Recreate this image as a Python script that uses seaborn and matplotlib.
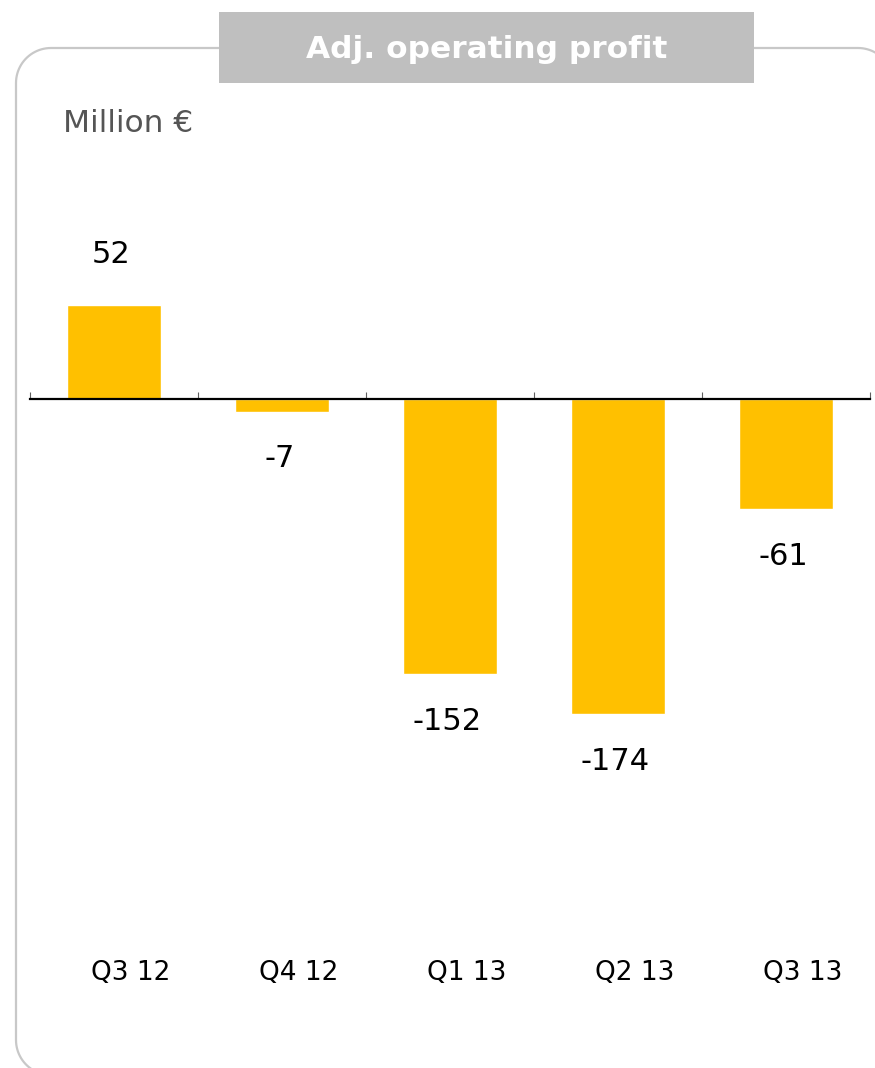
import matplotlib
matplotlib.use("Agg")
import matplotlib.pyplot as plt
import matplotlib.transforms as mtransforms
from matplotlib.patches import Rectangle, PathPatch
from matplotlib.path import Path
import numpy as np
import seaborn as sns
import pandas as pd

quarters = ["Q3 12", "Q4 12", "Q1 13", "Q2 13", "Q3 13"]
profit = [52, -7, -152, -174, -61]
title = "Adj. operating profit"
unit = "Million €"

sns.set_theme(style="white")
plt.rcParams["font.family"] = ["DejaVu Sans"]

W, H = 875, 1068
fig = plt.figure(figsize=(W / 100, H / 100), dpi=100)
fig.patch.set_facecolor("white")

px = mtransforms.IdentityTransform()  # pixel coordinates, origin bottom-left


def rounded_rect(x0, y0, x1, y1, r, n=24):
    """Closed outline of a rounded rectangle (pixel coords, y up)."""
    pts = []
    corners = [((x1 - r, y1 - r), 0), ((x0 + r, y1 - r), 90),
               ((x0 + r, y0 + r), 180), ((x1 - r, y0 + r), 270)]
    for (cx, cy), a0 in corners:
        t = np.radians(np.linspace(a0, a0 + 90, n))
        pts.extend(zip(cx + r * np.cos(t), cy + r * np.sin(t)))
    pts.append(pts[0])
    return Path(pts)


# outer rounded frame (runs off the canvas on the right and bottom)
frame = PathPatch(rounded_rect(16, H - 1075, 893, H - 48, 35), transform=px,
                  fill=False, edgecolor="#c8c8c8", linewidth=1.6,
                  clip_on=False)
fig.add_artist(frame)

# title banner
banner = Rectangle((219, H - 83), 754 - 219, 83 - 12, transform=px,
                   facecolor="#bfbfbf", edgecolor="none")
fig.add_artist(banner)
fig.text(487 / W, 1 - 50 / H, title, ha="center", va="center",
         color="white", fontsize=22.5, fontweight="bold")
fig.text(63 / W, 1 - 123 / H, unit, ha="left", va="center",
         color="#555555", fontsize=22.5)

ax = fig.add_axes([30 / W, 1 - 900 / H, 840 / W, 700 / H])
df = pd.DataFrame({"quarter": quarters, "profit": profit})
sns.barplot(data=df, x="quarter", y="profit", color="#ffc000",
            saturation=1, width=0.56, ax=ax)

ax.set_xlim(-0.5, len(quarters) - 0.5)
ax.set_ylim(-276.8, 109.9)
ax.set_xlabel("")
ax.set_ylabel("")
ax.set_yticks([])
for s in ["top", "left", "right"]:
    ax.spines[s].set_visible(False)
ax.spines["bottom"].set_position(("data", 0))
ax.spines["bottom"].set_color("black")
ax.spines["bottom"].set_linewidth(1.6)
ax.spines["bottom"].set_zorder(5)
ax.set_xticks([i - 0.5 for i in range(len(quarters) + 1)])
ax.set_xticklabels([])
ax.tick_params(axis="x", direction="in", length=5, width=0.8,
               color="#606060", bottom=True)
ax.patch.set_alpha(0)

# value labels
for i, v in enumerate(profit):
    off = 36 if v >= 0 else -34
    ax.annotate(f"{v}", (i, v), xytext=(-2, off), textcoords="offset points",
                ha="center", va="center", fontsize=22, color="black")

# category labels beneath the chart
trans = mtransforms.blended_transform_factory(ax.transData, fig.transFigure)
for i, q in enumerate(quarters):
    ax.text(i + 0.1, 1 - 973 / H, q, transform=trans, ha="center",
            va="center", fontsize=19, color="black")

fig.savefig("out.png", dpi=100, facecolor="white")
